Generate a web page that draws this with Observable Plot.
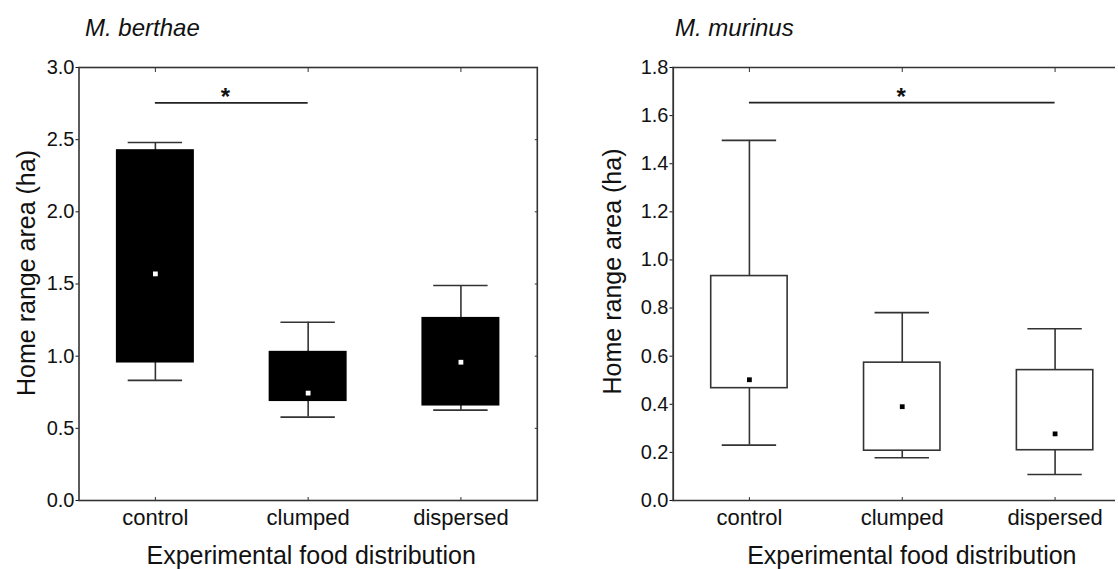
<!DOCTYPE html>
<html>
<head>
<meta charset="utf-8">
<script src="https://cdn.jsdelivr.net/npm/d3@7"></script>
<script src="https://cdn.jsdelivr.net/npm/@observablehq/plot@0.6"></script>
<style>
  html, body { margin: 0; padding: 0; background: #fff; overflow: hidden; }
  #wrap { position: relative; width: 1118px; height: 569px; overflow: hidden; }
  #wrap > div { position: absolute; top: 0; height: 569px; overflow: hidden; }
  #wrap svg { max-width: none !important; }
</style>
</head>
<body>
<div id="wrap">
  <div id="berthae" style="left:0px; width:560px"></div>
  <div id="murinus" style="left:560px; width:558px"></div>
</div>
<script>
// Food-distribution treatments
const categories = ["control", "clumped", "dispersed"];

// Microcebus berthae home ranges (ha): whiskers, box edges, central point
const berthaeHigh   = [2.48, 1.235, 1.49];
const berthaeQ3     = [2.425, 1.028, 1.263];
const berthaeQ1     = [0.958, 0.691, 0.66];
const berthaeLow    = [0.832, 0.578, 0.626];
const berthaeMedian = [1.57, 0.744, 0.958];

// Microcebus murinus home ranges (ha)
const murinusHigh   = [1.497, 0.781, 0.714];
const murinusQ3     = [0.933, 0.573, 0.542];
const murinusQ1     = [0.467, 0.207, 0.209];
const murinusLow    = [0.23, 0.178, 0.108];
const murinusMedian = [0.502, 0.39, 0.277];

// Significant pairwise differences
const berthaeSig = [{from: "control", to: "clumped", y: 2.755, label: "*"}];
const murinusSig = [{from: "control", to: "dispersed", y: 1.654, label: "*"}];

const berthaeTicks = [0, 0.5, 1.0, 1.5, 2.0, 2.5, 3.0];
const murinusTicks = [0, 0.2, 0.4, 0.6, 0.8, 1.0, 1.2, 1.4, 1.6, 1.8];

const yLabel = "Home range area (ha)";
const xLabel = "Experimental food distribution";
const font = "'Liberation Sans', Arial, Helvetica, sans-serif";
const ink = "#333";

function rows(high, q3, q1, low, median) {
  return categories.map((c, i) => ({cat: c, high: high[i], q3: q3[i], q1: q1[i], low: low[i], median: median[i]}));
}

function panel({title, data, sig, ticks, yMax, boxFill, boxStroke, dotFill, width, marginLeft, marginRight,
                titleDx, yLabelDx, yLabelDy, xLabelDx, starX, starDx, openRight}) {
  const frameWidth = width - marginLeft - marginRight;
  // half a band: the significance bar runs between band centres
  const half = frameWidth / 3 * 0.25;
  const lineStyle = {stroke: "#333", strokeWidth: 1.6};
  const marks = [];
  if (openRight == null) {
    marks.push(
      Plot.frame(lineStyle),
      Plot.axisY({anchor: "right", ticks, tickSize: -3, tickFormat: () => "", color: ink, label: null})
    );
  } else {
    // the panel runs on past the right edge: left, top and bottom edges only
    marks.push(
      Plot.ruleY([0, yMax], {...lineStyle, insetRight: openRight}),
      Plot.frame({stroke: "#333", strokeWidth: 1.4, insetRight: frameWidth - 0.4})
    );
  }
  marks.push(
    // whiskers
    Plot.ruleX(data, {x: "cat", y1: "low", y2: "q1", stroke: ink, strokeWidth: 1.6}),
    Plot.ruleX(data, {x: "cat", y1: "q3", y2: "high", stroke: ink, strokeWidth: 1.6}),
    Plot.tickY(data, {x: "cat", y: "high", stroke: ink, strokeWidth: 1.6, insetLeft: 11, insetRight: 11}),
    Plot.tickY(data, {x: "cat", y: "low", stroke: ink, strokeWidth: 1.6, insetLeft: 11, insetRight: 11}),
    // boxes
    Plot.barY(data, {x: "cat", y1: "q1", y2: "q3", fill: boxFill, stroke: boxStroke, strokeWidth: 1.6}),
    Plot.dot(data, {x: "cat", y: "median", symbol: "square", r: 2.7, fill: dotFill, stroke: null}),
    // significance bar and star
    Plot.ruleY(sig, {x1: "from", x2: "to", y: "y", insetLeft: half, insetRight: half, stroke: "#222", strokeWidth: 1.6}),
    Plot.text(sig, {x: () => starX, y: "y", text: "label", dx: starDx, dy: -5.5, fontSize: 24, fontWeight: "bold", fill: "#111"}),
    // axes
    Plot.axisY({anchor: "left", ticks, tickSize: 3, tickPadding: 1.5, tickFormat: d3.format(".1f"),
                fontSize: 20, color: "#111", label: null}),
    Plot.axisX({anchor: "bottom", tickSize: 0, tickPadding: 8.5, fontSize: 22, color: "#111", label: null}),
    Plot.axisX({anchor: "bottom", tickSize: -3, tickFormat: () => "", color: ink, label: null}),
    Plot.axisX({anchor: "top", tickSize: -4, tickFormat: () => "", color: ink, label: null}),
    // titles and axis labels
    Plot.text([title], {frameAnchor: "top-left", textAnchor: "start", lineAnchor: "middle", dx: titleDx, dy: -38.7,
                        fontSize: 24, fontStyle: "italic", fill: "#111"}),
    Plot.text([yLabel], {frameAnchor: "left", textAnchor: "middle", lineAnchor: "middle", rotate: -90,
                         dx: yLabelDx, dy: yLabelDy, fontSize: 25, fill: "#111"}),
    Plot.text([xLabel], {frameAnchor: "bottom", textAnchor: "middle", lineAnchor: "middle",
                         dx: xLabelDx, dy: 55, fontSize: 25, fill: "#111"})
  );
  return Plot.plot({
    width, height: 569,
    marginLeft, marginRight, marginTop: 67, marginBottom: 69,
    style: {fontFamily: font, background: "transparent", maxWidth: "none"},
    x: {type: "band", domain: categories, paddingInner: 0.5, paddingOuter: 0.25, round: false},
    y: {domain: [0, yMax]},
    marks
  });
}

document.getElementById("berthae").append(panel({
  title: "M. berthae",
  data: rows(berthaeHigh, berthaeQ3, berthaeQ1, berthaeLow, berthaeMedian),
  sig: berthaeSig, ticks: berthaeTicks, yMax: 3,
  boxFill: "#000", boxStroke: "#000", dotFill: "#fff",
  width: 560, marginLeft: 78.5, marginRight: 23.2,
  titleDx: 6, yLabelDx: -52.5, yLabelDy: -11, xLabelDx: 3,
  starX: "control", starDx: 70, openRight: null
}));

document.getElementById("murinus").append(panel({
  title: "M. murinus",
  data: rows(murinusHigh, murinusQ3, murinusQ1, murinusLow, murinusMedian),
  sig: murinusSig, ticks: murinusTicks, yMax: 1.8,
  boxFill: "#fff", boxStroke: ink, dotFill: "#000",
  width: 600, marginLeft: 112.5, marginRight: 29,
  titleDx: 2, yLabelDx: -60.5, yLabelDy: -12.5, xLabelDx: 9.6,
  starX: "clumped", starDx: -1, openRight: 16
}));
</script>
</body>
</html>
